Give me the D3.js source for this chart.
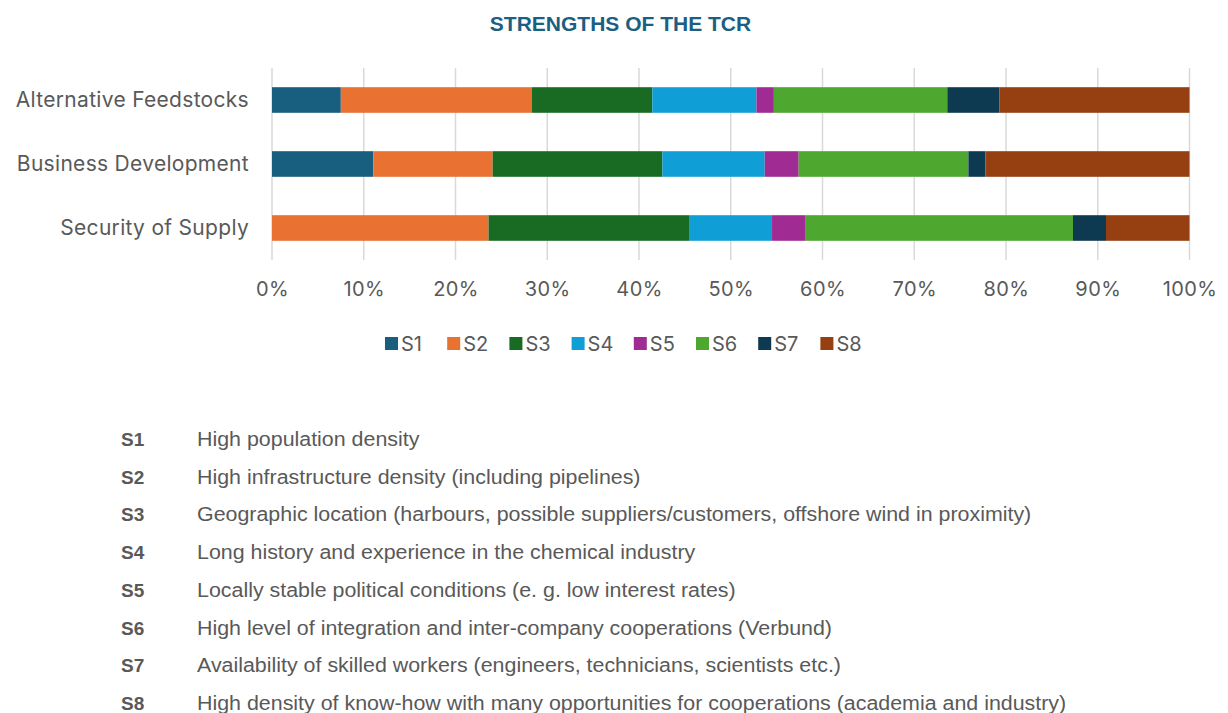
<!DOCTYPE html>
<html>
<head>
<meta charset="utf-8">
<script src="https://cdn.jsdelivr.net/npm/d3@7"></script>
<style>
    body { margin: 0; background: #fff; }
    svg { display: block; }
</style>
</head>
<body>
<svg id="chart" width="1228" height="713"></svg>
<script>
const categories = ['Alternative Feedstocks', 'Business Development', 'Security of Supply'];
const seriesKeys = ['S1', 'S2', 'S3', 'S4', 'S5', 'S6', 'S7', 'S8'];

// shares in percent
const s1 = [7.5, 11.05, 0];
const s2 = [20.8, 13.0, 23.6];
const s3 = [13.15, 18.5, 21.85];
const s4 = [11.35, 11.15, 9.05];
const s5 = [1.9, 3.7, 3.6];
const s6 = [18.9, 18.5, 29.2];
const s7 = [5.7, 1.85, 3.6];
const s8 = [20.7, 22.25, 9.1];

const xTicks = [0, 0.1, 0.2, 0.3, 0.4, 0.5, 0.6, 0.7, 0.8, 0.9, 1];

const descriptions = [
    'High population density',
    'High infrastructure density (including pipelines)',
    'Geographic location (harbours, possible suppliers/customers, offshore wind in proximity)',
    'Long history and experience in the chemical industry',
    'Locally stable political conditions (e. g. low interest rates)',
    'High level of integration and inter-company cooperations (Verbund)',
    'Availability of skilled workers (engineers, technicians, scientists etc.)',
    'High density of know-how with many opportunities for cooperations (academia and industry)'
];

const colors = ['#175e7f', '#e97132', '#196b24', '#0f9ed5', '#a02b93', '#4ea72e', '#0e3a51', '#964011'];

const chartFont = 'Inter, "Noto Sans", sans-serif';
const listFont = '"Liberation Sans", Arial, sans-serif';

const seriesValues = [s1, s2, s3, s4, s5, s6, s7, s8];
const rows = categories.map((c, i) => {
    const row = { category: c };
    seriesKeys.forEach((k, j) => row[k] = seriesValues[j][i] / 100);
    return row;
});

const stacked = d3.stack().keys(seriesKeys)(rows);

const svg = d3.select('#chart');

const x = d3.scaleLinear().domain([0, 1]).range([272, 1189.5]);
const y = d3.scaleBand().domain(categories).range([68, 260]).paddingInner(0.6).paddingOuter(0.3);
const color = d3.scaleOrdinal().domain(seriesKeys).range(colors);

svg.append('text')
    .attr('x', 620.5)
    .attr('y', 31)
    .attr('text-anchor', 'middle')
    .style('font-family', listFont)
    .style('font-weight', 'bold')
    .style('font-size', '21px')
    .style('fill', '#1b5f82')
    .text('STRENGTHS OF THE TCR');

// gridlines
svg.append('g')
    .selectAll('line')
    .data(xTicks)
    .enter()
        .append('line')
        .attr('x1', d => x(d))
        .attr('x2', d => x(d))
        .attr('y1', 68)
        .attr('y2', 260)
        .style('stroke', '#d9d9d9')
        .style('stroke-width', 1.5);

svg.append('g')
    .selectAll('g')
    .data(stacked)
    .enter()
        .append('g')
        .attr('fill', d => color(d.key))
        .selectAll('rect')
        .data(d => d)
        .enter()
            .append('rect')
            .attr('x', d => x(d[0]))
            .attr('y', d => y(d.data.category))
            .attr('width', d => x(d[1]) - x(d[0]))
            .attr('height', y.bandwidth());

const xAxis = svg.append('g')
    .attr('transform', 'translate(0,282)')
    .call(d3.axisBottom(x).tickValues(xTicks).tickFormat(d3.format('.0%')).tickSize(0).tickPadding(0));
xAxis.select('.domain').remove();
xAxis.selectAll('text')
    .attr('dy', '0.71em')
    .style('font-family', chartFont)
    .style('font-size', '20px')
    .style('letter-spacing', '0.4px')
    .style('fill', '#595959');

const yAxis = svg.append('g')
    .attr('transform', 'translate(249,0)')
    .call(d3.axisLeft(y).tickSize(0).tickPadding(0));
yAxis.select('.domain').remove();
yAxis.selectAll('text')
    .style('font-family', chartFont)
    .style('font-size', '21px')
    .style('letter-spacing', '0.3px')
    .style('fill', '#595959');

// legend
const legend = svg.append('g')
    .selectAll('g')
    .data(seriesKeys)
    .enter()
        .append('g')
        .attr('transform', (d, i) => `translate(${385 + i * 62.2},337)`);

legend.append('rect')
    .attr('width', 13)
    .attr('height', 13)
    .attr('fill', d => color(d));

legend.append('text')
    .attr('x', 16)
    .attr('y', 13.5)
    .style('font-family', chartFont)
    .style('font-size', '20px')
    .style('fill', '#595959')
    .text(d => d);

// explanation list
const items = svg.append('g')
    .selectAll('g')
    .data(seriesKeys)
    .enter()
        .append('g')
        .attr('transform', (d, i) => `translate(0,${446 + i * 37.7})`);

items.append('text')
    .attr('x', 121)
    .style('font-family', listFont)
    .style('font-weight', 'bold')
    .style('font-size', '19px')
    .style('fill', '#595959')
    .text(d => d);

items.append('text')
    .attr('transform', 'translate(197,0) scale(1.07,1)')
    .style('font-family', listFont)
    .style('font-size', '20px')
    .style('fill', '#595959')
    .text((d, i) => descriptions[i]);
</script>
</body>
</html>
